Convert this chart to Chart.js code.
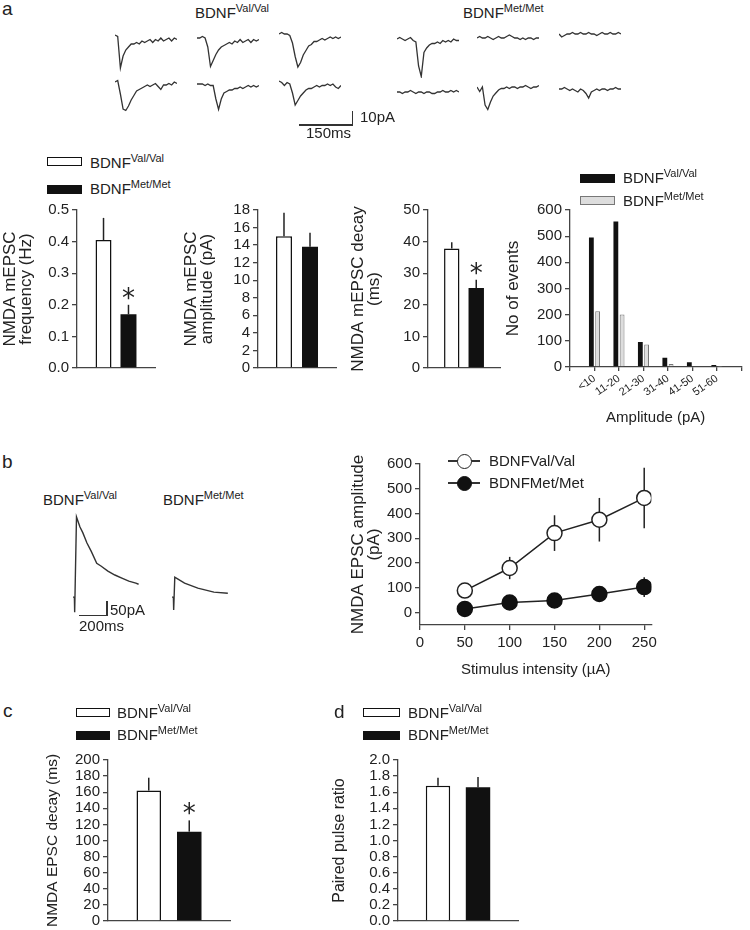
<!DOCTYPE html>
<html>
<head>
<meta charset="utf-8">
<script src="https://cdn.jsdelivr.net/npm/chart.js@4.4.1/dist/chart.umd.min.js"></script>
<style>
  html, body { margin: 0; padding: 0; background: #fff; }
  #fig { position: relative; width: 750px; height: 930px; overflow: hidden; background: #fff;
         font-family: "Liberation Sans", Arial, Helvetica, sans-serif; color: #222; }
  #fig canvas { position: absolute; }
  .txt { position: absolute; white-space: nowrap; }
  .sup { position: relative; font-size: 11px; }
  .blk { position: absolute; background: #333; }
  .box { position: absolute; box-sizing: border-box; }
</style>
</head>
<body>
<div id="fig"></div>
<script>
// ---- a: example mEPSC traces (pA, sampled every 7.5 ms) ----
const miniTime = [0, 7.5, 15, 22.5, 30, 37.5, 45, 52.5, 60, 67.5, 75, 82.5, 90, 97.5, 105, 112.5, 120, 127.5, 135, 142.5, 150, 157.5, 165, 172.5];
const valTrace1 = [0, -1, -22, -14, -10, -8, -6, -6, -5, -6, -4, -5, -4, -3, -5, -3, -4, -2, -4, -3, -2, -4, -2, -3];
const valTrace2 = [0, 0, 1, 0, -6, -19, -15, -11, -8, -6, -5, -4, -3, -4, -2, -3, -1, -3, -2, -1, -3, -1, -2, -1];
const valTrace3 = [0, 1, 0, 0, -1, -6, -15, -22, -19, -14, -11, -8, -7, -5, -5, -4, -3, -4, -3, -2, -3, -2, -3, -2];
const valTrace4 = [0, 1, -8, -18, -19, -16, -12, -9, -6, -5, -4, -3, -2, -3, -2, -1, -3, -5, -2, -2, -1, -2, 0, -1];
const valTrace5 = [0, 0, 0, -1, 0, -1, -1, -10, -17, -10, -6, -5, -4, -4, -3, -3, -2, -3, -2, -1, -2, -1, -2, -1];
const valTrace6 = [0, -1, -3, -1, -2, -8, -16, -13, -10, -8, -6, -5, -5, -4, -3, -4, -3, -3, -2, -3, -2, -4, -5, -3];
const metTrace1 = [0, 1, 0, -1, 0, 1, -1, -2, -18, -25, -9, -6, -4, -3, -3, -2, -3, -1, -2, -1, -2, 0, -1, -1];
const metTrace2 = [0, 1, 0, 0, 1, 0, -1, 0, 1, 0, 0, 1, 2, 1, 0, 0, -1, 0, -1, 0, 0, -1, 0, 0];
const metTrace3 = [0, -2, -1, 0, 0, 1, 0, 0, 1, 0, 0, 1, 0, 0, -1, 0, 1, 0, 0, 1, 0, 0, 1, 0];
const metTrace4 = [0, 0, -1, 0, 0, 1, 0, -1, 0, 0, -1, 0, 0, -1, -1, 0, 0, 1, 0, 0, 1, 0, 1, 0];
const metTrace5 = [0, -3, 0, -12, -15, -10, -6, -4, -2, -1, -1, 0, -1, 0, 0, -1, 0, 0, 1, 0, -1, 0, 0, 1];
const metTrace6 = [0, 0, 1, 0, -1, 0, -1, -2, 0, -1, -3, -6, -2, -1, 0, -1, 0, 0, -1, 0, 0, 1, 0, 0];

// ---- a: summary bars ----
const genotypes = ['Val/Val', 'Met/Met'];
const freqMean = [0.405, 0.17], freqErr = [0.07, 0.03];
const ampMean = [15.0, 13.8], ampErr = [2.7, 1.6];
const decayMean = [37.8, 25.3], decayErr = [2.0, 2.6];
const ampBins = ['<10', '11-20', '21-30', '31-40', '41-50', '51-60'];
const histVal = [495, 556, 96, 35, 18, 8];
const histMet = [213, 201, 86, 11, 3, 1];

// ---- b: evoked traces and input/output ----
const valEvokedTime = [0, 10, 12, 25, 50, 70, 100, 130, 170, 200, 250, 300, 350, 400, 450, 470];
const valEvoked = [0, 0, -54, 286, 250, 230, 193, 164, 121, 111, 93, 79, 68, 57, 50, 46];
const metEvokedTime = [0, 10, 12, 20, 40, 90, 185, 300, 400];
const metEvoked = [0, 0, -46, 71, 65, 50, 32, 18, 14];
const stimulus = [50, 100, 150, 200, 250];
const stimulusTicks = [0, 50, 100, 150, 200, 250];
const ioTicks = [0, 100, 200, 300, 400, 500, 600];
const ioVal = [89, 180, 321, 375, 463], ioValErr = [20, 45, 72, 88, 122];
const ioMet = [15, 41, 49, 75, 103], ioMetErr = [10, 12, 15, 18, 40];

// ---- c, d ----
const epscDecayMean = [162, 111], epscDecayErr = [16, 14];
const pprMean = [1.68, 1.66], pprErr = [0.10, 0.13];

Chart.defaults.font.family = '"Liberation Sans", Arial, Helvetica, sans-serif';
Chart.defaults.font.size = 15;
Chart.defaults.color = '#222';
Chart.defaults.animation = false;
Chart.defaults.plugins.legend.display = false;
Chart.defaults.plugins.tooltip.enabled = false;

const fig = document.getElementById('fig');
const AX = '#444';

// error bars (up only for bars, both ways for points) and significance stars
Chart.register({
  id: 'errorBars',
  beforeDatasetsDraw(chart) {
    const ctx = chart.ctx;
    chart.data.datasets.forEach((ds, i) => {
      if (!ds.errors) return;
      const meta = chart.getDatasetMeta(i);
      const ys = chart.scales[meta.yAxisID];
      meta.data.forEach((el, j) => {
        const raw = ds.data[j];
        const v = typeof raw === 'object' ? raw.y : raw;
        const e = ds.errors[j];
        if (v == null || !e) return;
        const top = ys.getPixelForValue(v + e);
        const bot = ds.bothSides ? ys.getPixelForValue(v - e) : ys.getPixelForValue(v);
        ctx.save();
        ctx.strokeStyle = '#222';
        ctx.lineWidth = 1.5;
        ctx.beginPath();
        ctx.moveTo(el.x, top);
        ctx.lineTo(el.x, bot);
        ctx.stroke();
        if (ds.stars && ds.stars[j]) {
          ctx.fillStyle = '#222';
          ctx.font = '26px "DejaVu Sans"';
          ctx.textAlign = 'center';
          ctx.textBaseline = 'alphabetic';
          ctx.fillText('*', el.x, top + 2);
        }
        ctx.restore();
      });
    });
  }
});

function placeChart(plot, yw, xh, config, padTop, padRight) {
  const c = document.createElement('canvas');
  const w = plot.r - plot.l + yw + padRight;
  const h = plot.b - plot.t + padTop + xh;
  c.width = w; c.height = h;
  c.style.left = (plot.l - yw) + 'px';
  c.style.top = (plot.t - padTop) + 'px';
  c.style.width = w + 'px';
  c.style.height = h + 'px';
  fig.appendChild(c);
  const o = config.options;
  o.responsive = false;
  o.layout = { padding: { top: padTop, right: padRight, left: 0, bottom: 0 } };
  if (yw) o.scales.y.afterFit = s => { s.width = yw; };
  if (xh) o.scales.x.afterFit = s => { s.height = xh; };
  return new Chart(c, config);
}

function txt(x, baseline, html, size, extra) {
  const d = document.createElement('div');
  d.className = 'txt';
  d.style.fontSize = size + 'px';
  d.style.lineHeight = size + 'px';
  d.style.left = x + 'px';
  d.style.top = (baseline - 0.85 * size) + 'px';
  if (extra) d.style.cssText += extra;
  d.innerHTML = html;
  fig.appendChild(d);
}
const bdnf = g => 'BDNF<span class="sup" style="top:-6px">' + g + '</span>';

function blk(l, t, w, h) {
  const d = document.createElement('div');
  d.className = 'blk';
  d.style.cssText = `left:${l}px;top:${t}px;width:${w}px;height:${h}px`;
  fig.appendChild(d);
}

function yAxis(min, max, step, title, titlePad, fmt, titleSize) {
  return {
    min, max,
    border: { color: AX, width: 1.3 },
    grid: { drawOnChartArea: false, color: AX, lineWidth: 1.3, tickLength: 5 },
    ticks: { stepSize: step, padding: 3, autoSkip: false, callback: fmt || (v => v) },
    title: { display: !!title, text: title, font: { size: titleSize || 17, lineHeight: 0.95 }, padding: { top: titlePad, bottom: 0 } }
  };
}
const plainX = () => ({ grid: { display: false }, border: { color: AX, width: 1.3 }, ticks: { display: false } });

function barChart(plot, yw, means, errs, starIdx, y, cp, bp) {
  const sets = genotypes.map((g, i) => ({
    label: 'BDNF ' + g, genotype: g,
    data: [means[i]], errors: [errs[i]], stars: [i === starIdx],
    backgroundColor: i === 0 ? '#fff' : '#111',
    borderColor: '#111', borderWidth: i === 0 ? 1.5 : 0,
    categoryPercentage: cp, barPercentage: bp
  }));
  return placeChart(plot, yw, 10, {
    type: 'bar',
    data: { labels: [''], datasets: sets },
    options: { scales: { x: plainX(), y } }
  }, 12, 4);
}

function boxLegend(chart, boxX, rows, textX, baselines, boxW) {
  chart.data.datasets.forEach((ds, i) => {
    const b = document.createElement('div');
    b.className = 'box';
    const bw = ds.borderWidth || 0;
    b.style.cssText = `left:${boxX}px;top:${rows[i] - 4.5}px;width:${boxW}px;height:9px;` +
      `background:${ds.backgroundColor};border:${bw}px solid ${ds.borderColor || ds.backgroundColor}`;
    fig.appendChild(b);
    txt(textX, baselines[i], bdnf(ds.genotype), 15);
  });
}

function traceChart(plot, labels, values) {
  return placeChart(plot, 0, 0, {
    type: 'line',
    data: { labels, datasets: [{ data: values, borderColor: '#333', borderWidth: 1.3, pointRadius: 0, tension: 0 }] },
    options: { scales: { x: { display: false }, y: { display: false, min: -26, max: 4 } } }
  }, 0, 0);
}

function evokedChart(plot, times, values) {
  return placeChart(plot, 0, 0, {
    type: 'line',
    data: { datasets: [{ data: times.map((t, i) => ({ x: t, y: values[i] })), borderColor: '#333', borderWidth: 1.4, pointRadius: 0, tension: 0 }] },
    options: { scales: { x: { type: 'linear', display: false, min: 0, max: 480 }, y: { display: false, min: -60, max: 300 } } }
  }, 0, 0);
}

// ===== panel a =====
txt(2, 15, 'a', 19);
txt(195, 18, bdnf('Val/Val'), 15);
txt(463, 18, bdnf('Met/Met'), 15);

[[valTrace1, 115, 29], [valTrace2, 197, 32], [valTrace3, 279, 28],
 [valTrace4, 115, 76], [valTrace5, 197, 78], [valTrace6, 279, 75],
 [metTrace1, 397, 33], [metTrace2, 477, 32], [metTrace3, 559, 28],
 [metTrace4, 397, 86], [metTrace5, 477, 81], [metTrace6, 559, 83]
].forEach(([vals, l, t]) => traceChart({ l, t, r: l + 62, b: t + 45 }, miniTime, vals));

blk(299, 124, 54, 1.6);
blk(351.5, 111, 1.6, 14.6);
txt(360, 122, '10pA', 15);
txt(306, 138, '150ms', 15);

const freqChart = barChart({ l: 77, t: 210, r: 155, b: 370 }, 77, freqMean, freqErr, 1,
  yAxis(0, 0.5, 0.1, ['NMDA mEPSC', 'frequency (Hz)'], 2, v => v.toFixed(1)), 0.64, 0.64);
boxLegend(freqChart, 47, [161.5, 189.5], 90, [168, 194], 35);

barChart({ l: 258, t: 210, r: 336, b: 370 }, 78, ampMean, ampErr, -1,
  yAxis(0, 18, 2, ['NMDA mEPSC', 'amplitude (pA)'], 3), 0.667, 0.615);

barChart({ l: 428, t: 210, r: 500, b: 370 }, 83, decayMean, decayErr, 1,
  yAxis(0, 50, 10, ['NMDA mEPSC decay', '(ms)'], 5), 0.68, 0.63);

const histChart = placeChart({ l: 570, t: 210, r: 748, b: 367 }, 70, 58, {
  type: 'bar',
  data: {
    labels: [''].concat(ampBins, ['']),
    datasets: [
      { label: 'BDNF Val/Val', genotype: 'Val/Val', data: [null].concat(histVal, [null]),
        backgroundColor: '#111', borderColor: '#111', borderWidth: 0, categoryPercentage: 0.51, barPercentage: 0.77 },
      { label: 'BDNF Met/Met', genotype: 'Met/Met', data: [null].concat(histMet, [null]),
        backgroundColor: '#ddd', borderColor: '#777', borderWidth: 1, categoryPercentage: 0.51, barPercentage: 0.77 }
    ]
  },
  options: {
    scales: {
      x: {
        offset: false,
        grid: { offset: false, drawOnChartArea: false, color: AX, lineWidth: 1.3, tickLength: 4 },
        border: { color: AX, width: 1.3 },
        ticks: { font: { size: 11 }, minRotation: 35, maxRotation: 35, padding: 1, autoSkip: false },
        title: { display: true, text: 'Amplitude (pA)', font: { size: 15, lineHeight: 1 }, padding: 0 }
      },
      y: yAxis(0, 600, 100, 'No of events', 5)
    }
  }
}, 12, 2);
boxLegend(histChart, 580, [178, 200], 623, [183, 206], 35);

// ===== panel b =====
txt(2, 468, 'b', 19);
txt(43, 505, bdnf('Val/Val'), 15);
txt(163, 505, bdnf('Met/Met'), 15);
evokedChart({ l: 73, t: 513, r: 140, b: 614 }, valEvokedTime, valEvoked);
evokedChart({ l: 172, t: 513, r: 239, b: 614 }, metEvokedTime, metEvoked);
blk(106, 601, 1.6, 15);
blk(79, 614.5, 29, 1.6);
txt(110, 615, '50pA', 15);
txt(79, 631, '200ms', 15);

const ioChart = placeChart({ l: 420, t: 464, r: 653, b: 625 }, 75, 52, {
  type: 'line',
  data: {
    datasets: [
      { label: 'BDNFVal/Val', genotype: 'Val/Val', data: stimulus.map((s, i) => ({ x: s, y: ioVal[i] })),
        errors: ioValErr, bothSides: true, borderColor: '#222', borderWidth: 1.5,
        pointRadius: 7.5, pointBorderWidth: 1.5, pointBackgroundColor: '#fff', pointBorderColor: '#222' },
      { label: 'BDNFMet/Met', genotype: 'Met/Met', data: stimulus.map((s, i) => ({ x: s, y: ioMet[i] })),
        errors: ioMetErr, bothSides: true, borderColor: '#222', borderWidth: 1.5,
        pointRadius: 7.5, pointBorderWidth: 1.5, pointBackgroundColor: '#111', pointBorderColor: '#111' }
    ]
  },
  options: {
    scales: {
      x: {
        type: 'linear', min: 0, max: 258,
        afterBuildTicks: s => { s.ticks = stimulusTicks.map(v => ({ value: v })); },
        grid: { drawOnChartArea: false, color: AX, lineWidth: 1.3, tickLength: 5 },
        border: { color: AX, width: 1.3 },
        ticks: { padding: 4, autoSkip: false },
        title: { display: true, text: 'Stimulus intensity (\u00b5A)', font: { size: 15, lineHeight: 1 }, padding: 0 }
      },
      y: Object.assign(yAxis(-50, 600, 100, ['NMDA EPSC amplitude', '(pA)'], 5), {
        afterBuildTicks: s => { s.ticks = ioTicks.map(v => ({ value: v })); }
      })
    }
  }
}, 12, 8);

// legend with line + marker, built from the datasets
ioChart.data.datasets.forEach((ds, i) => {
  const cy = [461, 483][i];
  blk(448, cy - 0.75, 32, 1.5);
  const m = document.createElement('div');
  m.className = 'box';
  m.style.cssText = `left:${464 - 7.5}px;top:${cy - 7.5}px;width:15px;height:15px;border-radius:50%;` +
    `background:${ds.pointBackgroundColor};border:1.5px solid ${ds.pointBorderColor}`;
  fig.appendChild(m);
  txt(489, [466, 488][i], 'BDNF' + ds.genotype, 15);
});

// ===== panel c =====
txt(3, 717, 'c', 19);
const cChart = barChart({ l: 108, t: 760, r: 230, b: 923 }, 68, epscDecayMean, epscDecayErr, 1,
  yAxis(0, 200, 20, 'NMDA EPSC decay (ms)', 5, null, 15.5), 0.664, 0.605);
boxLegend(cChart, 76, [712, 735], 117, [718, 740], 34);

// ===== panel d =====
txt(334, 718, 'd', 19);
const dChart = barChart({ l: 398, t: 760, r: 518, b: 923 }, 73, pprMean, pprErr, -1,
  yAxis(0, 2, 0.2, 'Paired pulse ratio', 6.5, v => v.toFixed(1), 16), 0.667, 0.61);
boxLegend(dChart, 363, [712, 735], 408, [718, 740], 37);
</script>
</body>
</html>
